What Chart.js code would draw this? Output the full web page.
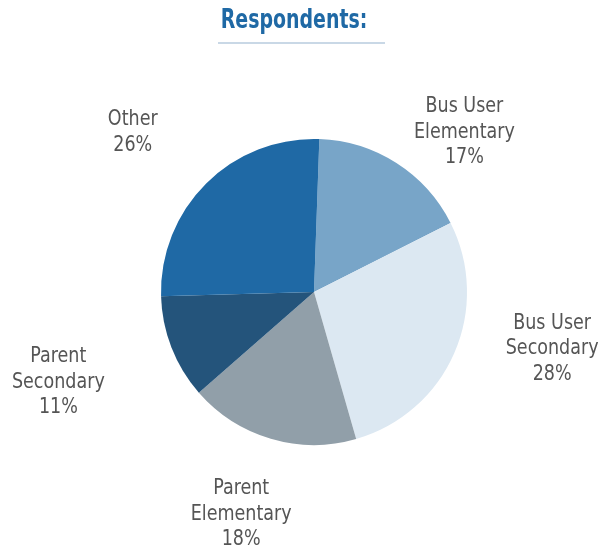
<!DOCTYPE html>
<html>
<head>
<meta charset="utf-8">
<script src="https://cdn.jsdelivr.net/npm/chart.js@4.4.1/dist/chart.umd.min.js"></script>
<style>
  html, body { margin: 0; padding: 0; background: #fff; }
  #wrap { width: 614px; height: 550px; }
</style>
</head>
<body>
<div id="wrap"><canvas id="pie" width="614" height="550"></canvas></div>
<script>
const titleText = 'Respondents:';
const categories = [
  ['Bus User', 'Elementary'],
  ['Bus User', 'Secondary'],
  ['Parent', 'Elementary'],
  ['Parent', 'Secondary'],
  ['Other']
];
const shares = [17, 28, 18, 11, 26];
const colors = ['#78a5c8', '#dce8f2', '#919fa9', '#24547b', '#1f69a5'];

const FONT = '"DejaVu Sans Condensed", "Liberation Sans Narrow", sans-serif';

// texte étroit : on comprime horizontalement
function narrowText(ctx, text, x, y, sx) {
  ctx.save();
  ctx.translate(x, y);
  ctx.scale(sx, 1);
  ctx.fillText(text, 0, 0);
  ctx.restore();
}

// titre + soulignement, et étiquettes extérieures
const outerLabels = {
  id: 'outerLabels',
  afterDraw(chart, args, opts) {
    const ctx = chart.ctx;
    const meta = chart.getDatasetMeta(0);
    ctx.save();

    // titre
    ctx.font = 'bold 27px ' + FONT;
    ctx.fillStyle = '#1f69a5';
    ctx.textAlign = 'center';
    ctx.textBaseline = 'alphabetic';
    narrowText(ctx, titleText, 294, 28, 0.78);
    ctx.strokeStyle = '#c9d8e6';
    ctx.lineWidth = 2;
    ctx.beginPath();
    ctx.moveTo(218, 43);
    ctx.lineTo(385, 43);
    ctx.stroke();

    // étiquettes
    ctx.font = '20.5px ' + FONT;
    ctx.fillStyle = '#555555';
    ctx.textBaseline = 'middle';
    const lineH = 25.5;
    meta.data.forEach((arc, i) => {
      const mid = (arc.startAngle + arc.endAngle) / 2;
      const dist = arc.outerRadius * 1.57;
      const n = opts.nudge[i] || [0, 0];
      const x = arc.x + Math.cos(mid) * dist + n[0];
      const y = arc.y + Math.sin(mid) * dist + n[1];
      const lines = categories[i].concat([shares[i] + '%']);
      const top = y - (lines.length - 1) * lineH / 2;
      lines.forEach((t, k) => narrowText(ctx, t, x, top + k * lineH, 0.95));
    });
    ctx.restore();
  }
};

new Chart(document.getElementById('pie'), {
  type: 'pie',
  data: {
    labels: categories.map(c => c.join(' ')),
    datasets: [{
      data: shares,
      backgroundColor: colors,
      borderWidth: 0
    }]
  },
  plugins: [outerLabels],
  options: {
    responsive: false,
    animation: false,
    rotation: 2,
    layout: { padding: { top: 139, bottom: 105, left: 100, right: 86 } },
    plugins: {
      legend: { display: false },
      tooltip: { enabled: false },
      outerLabels: {
        nudge: [[21, 43], [18, -39], [-5, -8], [-32, 3], [-12, 11]]
      }
    }
  }
});
</script>
</body>
</html>
